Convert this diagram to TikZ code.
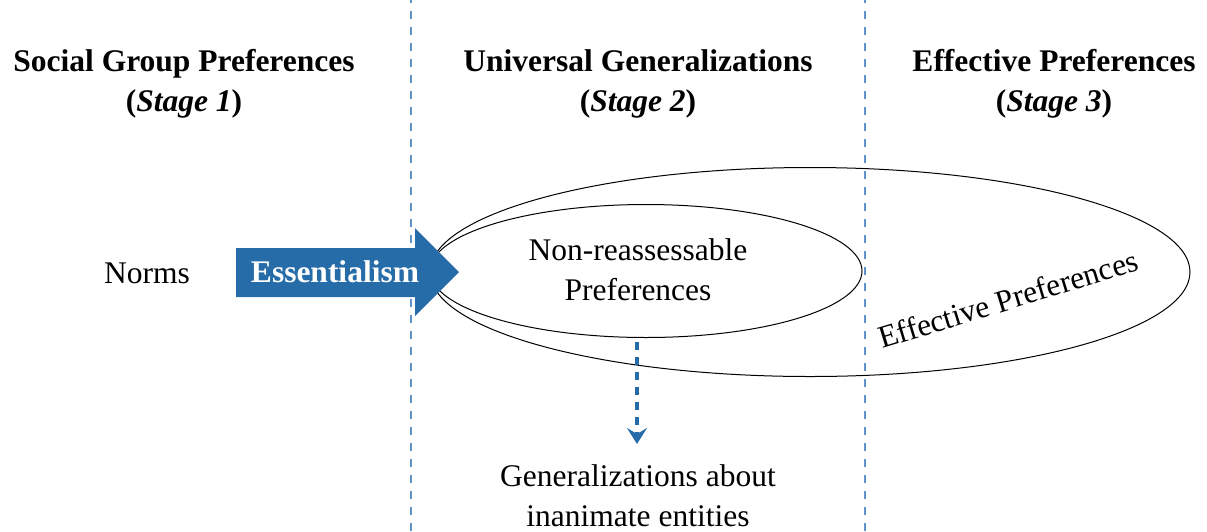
\documentclass[tikz,border=0pt]{standalone}
\usepackage{fontspec}
\setmainfont{Liberation Serif}
\usetikzlibrary{shapes.geometric,arrows.meta}
\definecolor{guide}{RGB}{96,146,200}
\definecolor{essblue}{RGB}{38,108,168}
\begin{document}
\begin{tikzpicture}[x=1pt,y=-1pt,
  every node/.style={font=\fontsize{31.5}{40}\selectfont, inner sep=0pt},
  head/.style={align=center, font=\fontsize{31.5}{40}\selectfont\bfseries},
  divider/.style={guide, line width=1.3pt, dash pattern=on 8pt off 8pt, dash phase=-11pt},
  oval/.style={draw, ellipse, line width=1pt, inner sep=0pt},
  flow/.style={essblue, line width=3.6pt, dash pattern=on 8pt off 7pt,
    -{Stealth[length=16pt,width=20pt,inset=6pt,sep=0pt]}}]
\useasboundingbox (0,0) rectangle (1207,531);

% stage dividers
\coordinate (d1t) at (411,0);  \coordinate (d1b) at (411,531);
\coordinate (d2t) at (865,0);  \coordinate (d2b) at (865,531);
\draw[divider] (d1t) -- (d1b);
\draw[divider] (d2t) -- (d2b);

% stage headings
\node[head] (h1) at (184,84) {Social Group Preferences\\(\textit{Stage 1})};
\node[head] (h2) at (638,84) {Universal Generalizations\\(\textit{Stage 2})};
\node[head] (h3) at (1054,84) {Effective Preferences\\(\textit{Stage 3})};

% nested preference sets
\node[oval, minimum width=760pt, minimum height=209pt] (outer) at (810,272) {};
\node[oval, minimum width=432pt, minimum height=133pt, align=center] (inner) at (646,271) {};
\node[align=center] (nonre) at (638,270) {Non-reassessable\\Preferences};
\node[rotate=17] (eff) at (1008,299) {Effective Preferences};

% norms and the essentialism arrow
\node (norms) at (147,273) {Norms};
\fill[essblue] (236,248) -- (415,248) -- (415,228) -- (459,272) -- (415,316)
  -- (415,297) -- (236,297) -- cycle;
\node[white, font=\fontsize{31.5}{40}\selectfont\bfseries] (ess) at (335,272) {Essentialism};

% generalizations about inanimate entities
\node[align=center] (gen) at (638,496) {Generalizations about\\inanimate entities};
\coordinate (fstart) at (637,342);
\coordinate (fend) at (637,444);
\draw[flow] (fstart) -- (fend);
\end{tikzpicture}
\end{document}
